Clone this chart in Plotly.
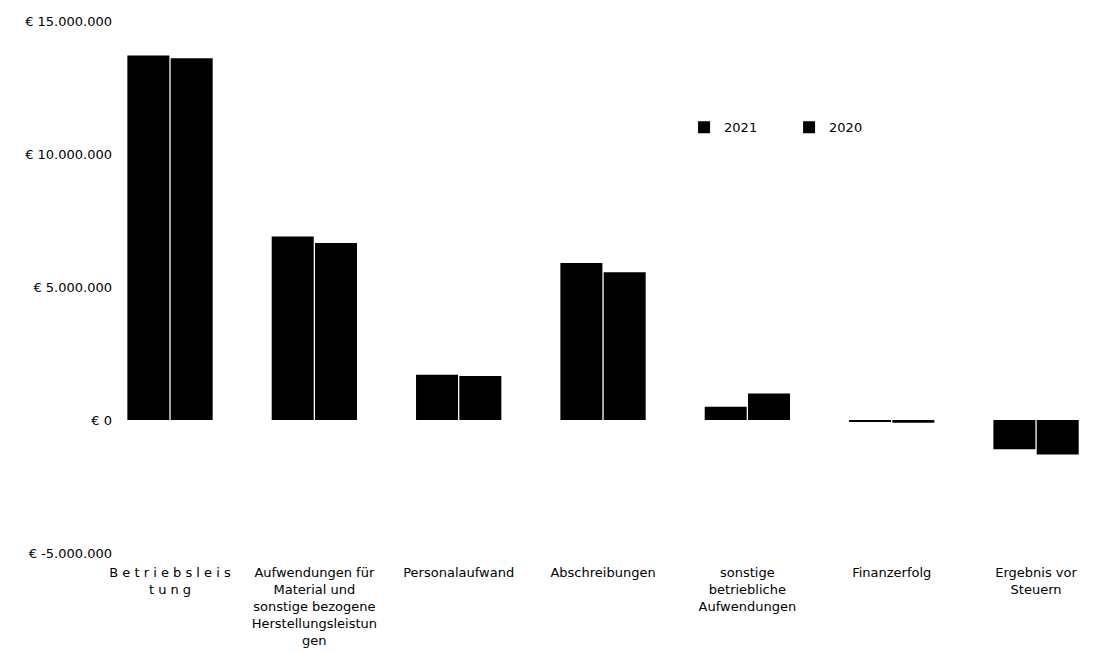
import plotly.graph_objects as go

categories = ["Betriebsleistung", "Aufwendungen für Material und sonstige bezogene Herstellungsleistungen",
              "Personalaufwand", "Abschreibungen", "sonstige betriebliche Aufwendungen",
              "Finanzerfolg", "Ergebnis vor Steuern"]
category_labels = ["B e t r i e b s l e i s<br>t u n g",
                   "Aufwendungen für<br>Material und<br>sonstige bezogene<br>Herstellungsleistun<br>gen",
                   "Personalaufwand", "Abschreibungen",
                   "sonstige<br>betriebliche<br>Aufwendungen",
                   "Finanzerfolg", "Ergebnis vor<br>Steuern"]
values_2021 = [13700000, 6900000, 1700000, 5900000, 500000, -50000, -1100000]
values_2020 = [13600000, 6650000, 1650000, 5550000, 1000000, -100000, -1300000]
y_tick_vals = [-5000000, 0, 5000000, 10000000, 15000000]
y_tick_text = ["€ -5.000.000", "€ 0", "€ 5.000.000", "€ 10.000.000", "€ 15.000.000"]

font = "DejaVu Sans, Liberation Sans, Arial, sans-serif"

fig = go.Figure()
fig.add_trace(go.Bar(name="2021", x=categories, y=values_2021, marker=dict(color="#000000", line=dict(width=0))))
fig.add_trace(go.Bar(name="2020", x=categories, y=values_2020, marker=dict(color="#000000", line=dict(width=0))))

fig.update_layout(
    width=1093, height=640,
    margin=dict(l=105, r=0, t=13, b=95),
    paper_bgcolor="white", plot_bgcolor="white",
    barmode="group", bargap=0.4, bargroupgap=0.03,
    font=dict(family=font, size=13, color="#000000"),
    showlegend=True,
    legend=dict(orientation="h", x=0.578, y=0.80, xanchor="left", yanchor="middle",
                font=dict(size=13), entrywidth=60, entrywidthmode="pixels",
                itemwidth=30, bgcolor="rgba(0,0,0,0)", traceorder="normal"),
    xaxis=dict(type="category", range=[-0.395, 6.45], tickmode="array",
               tickvals=categories, ticktext=category_labels, tickangle=0,
               showgrid=False, showline=False, zeroline=False, ticks="",
               ticklabelstandoff=10, tickfont=dict(size=13)),
    yaxis=dict(range=[-5000000, 15000000], tickmode="array", tickvals=y_tick_vals,
               ticktext=y_tick_text, showgrid=False, zeroline=False, showline=False,
               ticks="", tickfont=dict(size=13)),
)

fig.write_html("out.html")
